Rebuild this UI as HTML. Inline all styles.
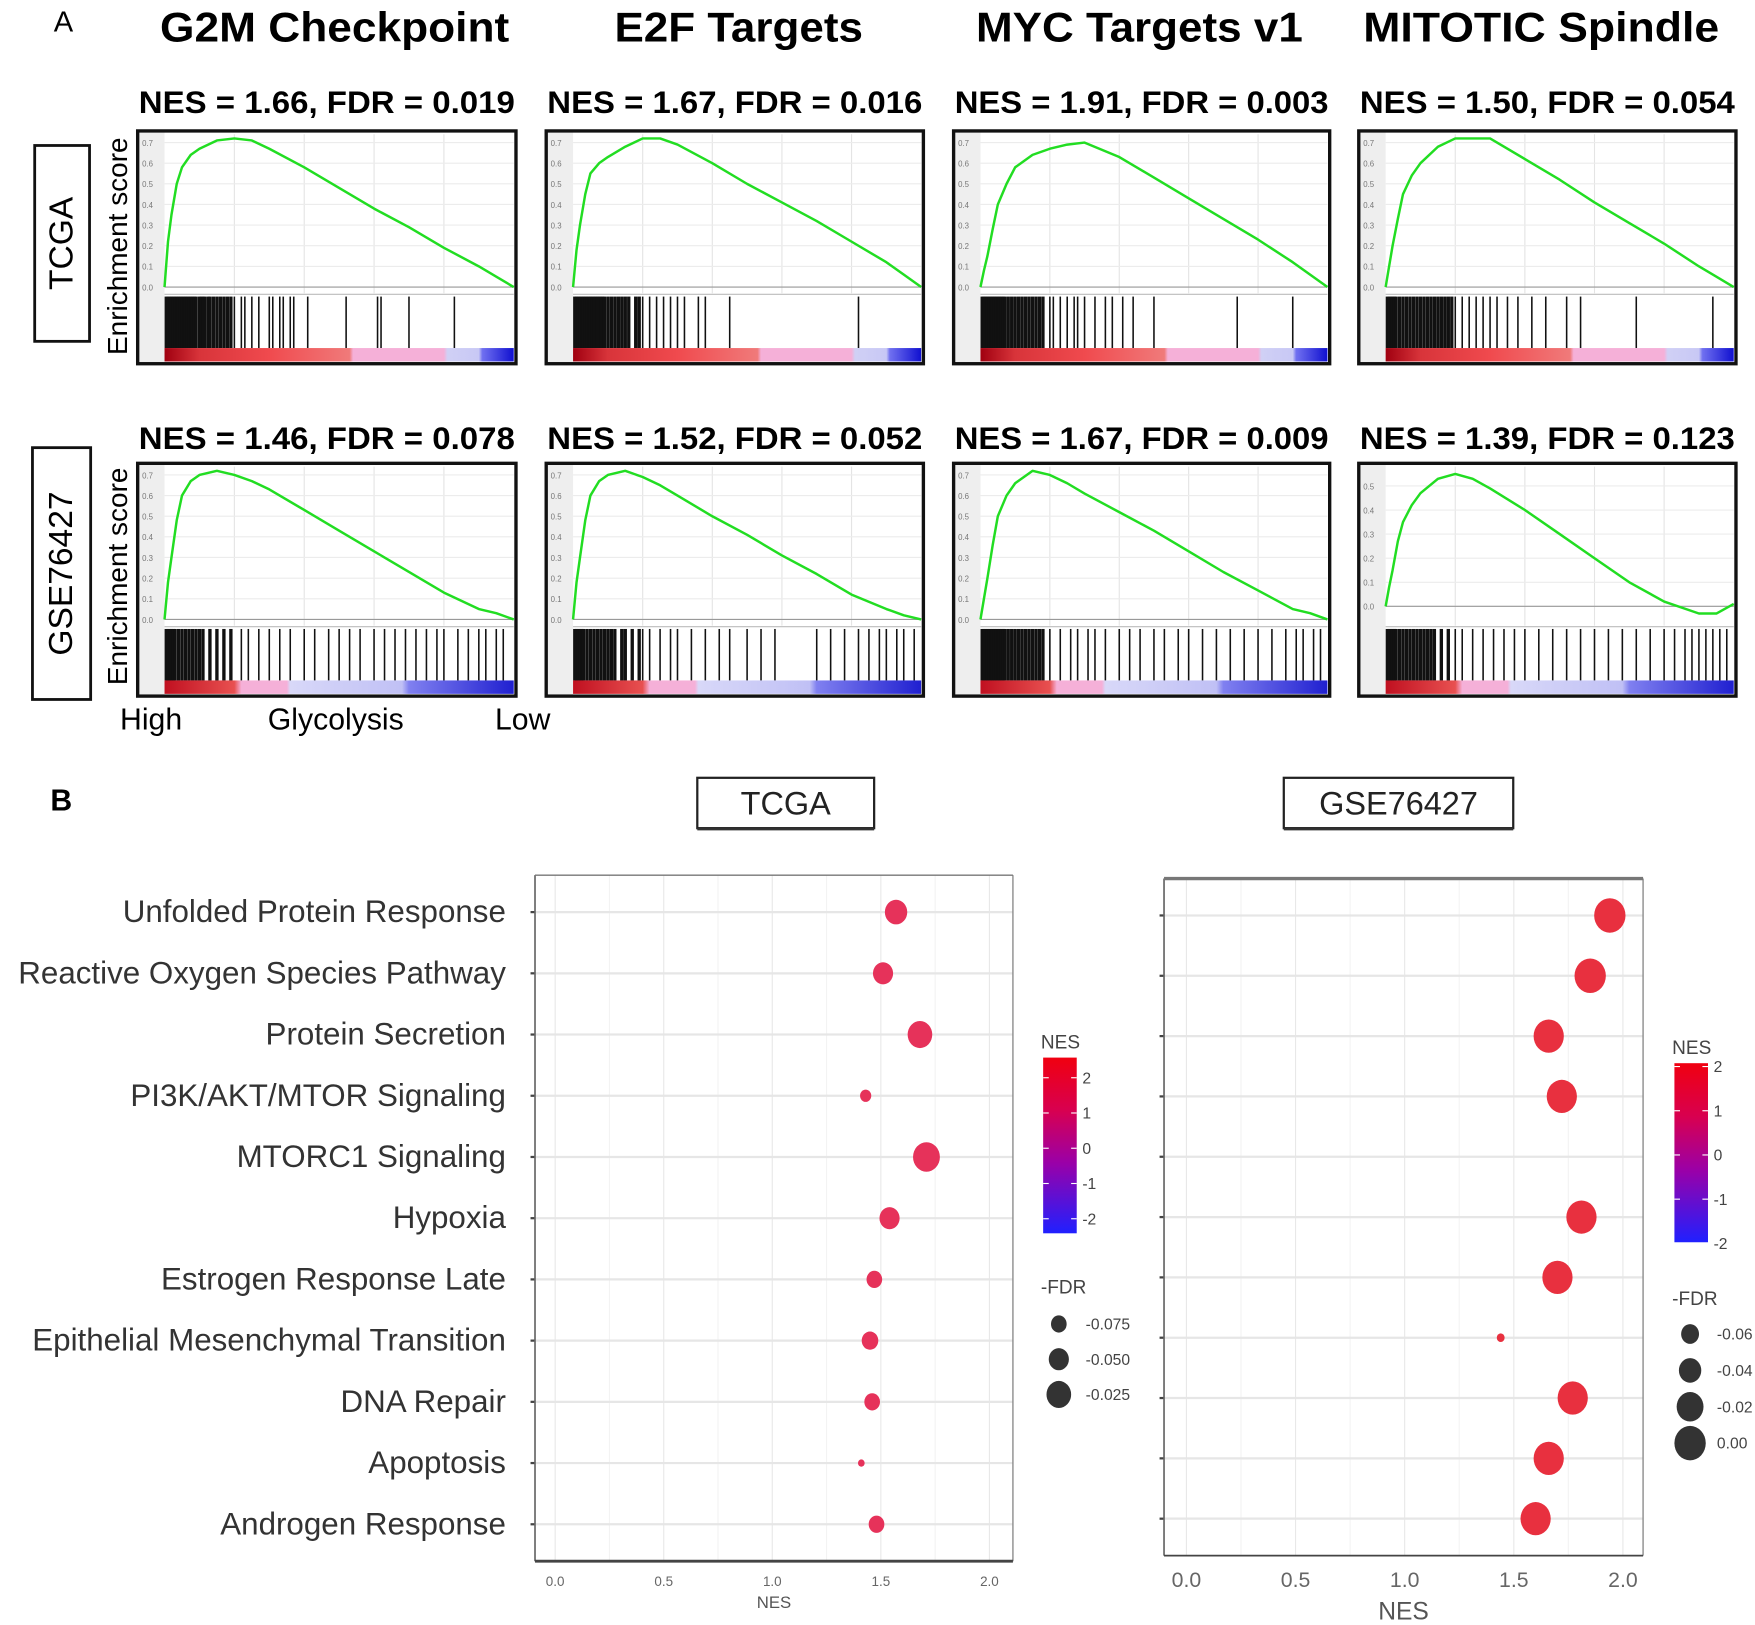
<!DOCTYPE html>
<html><head><meta charset="utf-8"><style>
html,body{margin:0;padding:0;background:#fff;}
svg{display:block;font-family:"Liberation Sans",sans-serif;}
</style></head><body>
<svg id="fig" width="1755" height="1625" viewBox="0 0 1568 1452" preserveAspectRatio="none" xmlns="http://www.w3.org/2000/svg">
<defs>
<linearGradient id="gTCGA" x1="0" x2="1" y1="0" y2="0">
<stop offset="0" stop-color="#a00010"/><stop offset="0.1" stop-color="#d8343a"/><stop offset="0.3" stop-color="#f04a4e"/><stop offset="0.53" stop-color="#f07a7a"/><stop offset="0.54" stop-color="#f5b0d8"/><stop offset="0.8" stop-color="#f5b0d8"/><stop offset="0.81" stop-color="#d0d0f5"/><stop offset="0.9" stop-color="#c8c8f5"/><stop offset="0.91" stop-color="#7070f0"/><stop offset="1" stop-color="#1010d0"/>
</linearGradient>
<linearGradient id="gGSE" x1="0" x2="1" y1="0" y2="0">
<stop offset="0" stop-color="#c01020"/><stop offset="0.2" stop-color="#e85050"/><stop offset="0.22" stop-color="#f5b0d8"/><stop offset="0.35" stop-color="#f5b0d8"/><stop offset="0.36" stop-color="#d8d8f8"/><stop offset="0.68" stop-color="#c0c0f5"/><stop offset="0.7" stop-color="#8080f0"/><stop offset="1" stop-color="#2020d0"/>
</linearGradient>
<linearGradient id="gNES" x1="0" x2="0" y1="0" y2="1">
<stop offset="0" stop-color="#f00010"/><stop offset="0.3" stop-color="#d80050"/><stop offset="0.6" stop-color="#9a00a8"/><stop offset="1" stop-color="#2020ff"/>
</linearGradient>
</defs>
<g id="partA"></g>
<g id="partB"></g>
</svg>
<script>
// ---------- Part A data ----------
const gseaTitles = ["G2M Checkpoint","E2F Targets","MYC Targets v1","MITOTIC Spindle"];
const tcgaLabels = ["NES = 1.66, FDR = 0.019","NES = 1.67, FDR = 0.016","NES = 1.91, FDR = 0.003","NES = 1.50, FDR = 0.054"];
const gseLabels = ["NES = 1.46, FDR = 0.078","NES = 1.52, FDR = 0.052","NES = 1.67, FDR = 0.009","NES = 1.39, FDR = 0.123"];
const esRank = [0,0.01,0.02,0.035,0.05,0.075,0.1,0.15,0.2,0.25,0.3,0.4,0.5,0.6,0.7,0.8,0.9,0.95,1];
const esG2M_T = [0,0.22,0.35,0.5,0.58,0.64,0.67,0.71,0.72,0.71,0.67,0.58,0.48,0.38,0.29,0.19,0.1,0.05,0];
const esE2F_T = [0,0.18,0.3,0.45,0.55,0.6,0.63,0.68,0.72,0.72,0.69,0.6,0.5,0.41,0.32,0.22,0.12,0.06,0];
const esMYC_T = [0,0.08,0.15,0.28,0.4,0.5,0.58,0.64,0.67,0.69,0.7,0.63,0.53,0.43,0.33,0.23,0.12,0.06,0];
const esMIT_T = [0,0.1,0.2,0.33,0.45,0.54,0.6,0.68,0.72,0.72,0.72,0.62,0.52,0.41,0.31,0.21,0.1,0.05,0];
const esG2M_G = [0,0.18,0.3,0.48,0.6,0.67,0.7,0.72,0.7,0.67,0.63,0.53,0.43,0.33,0.23,0.13,0.05,0.03,0];
const esE2F_G = [0,0.18,0.3,0.48,0.6,0.67,0.7,0.72,0.69,0.65,0.6,0.5,0.41,0.31,0.22,0.12,0.05,0.02,0];
const esMYC_G = [0,0.1,0.2,0.36,0.5,0.6,0.66,0.72,0.7,0.66,0.61,0.52,0.43,0.33,0.23,0.14,0.05,0.03,0];
const esMIT_G = [0,0.08,0.15,0.27,0.35,0.42,0.47,0.53,0.55,0.53,0.49,0.4,0.3,0.2,0.1,0.02,-0.03,-0.03,0.01];
const hitsG2M_T = [0.005,0.01,0.015,0.02,0.025,0.03,0.035,0.04,0.045,0.05,0.055,0.06,0.065,0.07,0.075,0.08,0.085,0.09,0.1,0.105,0.11,0.115,0.125,0.13,0.14,0.15,0.16,0.17,0.18,0.19,0.2,0.22,0.23,0.25,0.27,0.3,0.31,0.33,0.34,0.36,0.37,0.41,0.52,0.61,0.62,0.7,0.83];
const hitsE2F_T = [0.005,0.01,0.015,0.02,0.025,0.03,0.035,0.04,0.045,0.05,0.055,0.06,0.065,0.07,0.075,0.08,0.085,0.09,0.1,0.11,0.12,0.13,0.14,0.15,0.16,0.18,0.19,0.2,0.22,0.24,0.26,0.28,0.3,0.32,0.36,0.38,0.45,0.82];
const hitsMYC_T = [0.005,0.01,0.015,0.02,0.025,0.03,0.035,0.04,0.045,0.05,0.055,0.06,0.065,0.07,0.08,0.09,0.1,0.11,0.12,0.13,0.14,0.15,0.16,0.17,0.18,0.2,0.21,0.23,0.25,0.27,0.28,0.3,0.33,0.36,0.38,0.41,0.44,0.5,0.74,0.9];
const hitsMIT_T = [0.005,0.01,0.015,0.02,0.025,0.03,0.04,0.05,0.06,0.07,0.08,0.09,0.1,0.11,0.12,0.13,0.14,0.15,0.16,0.17,0.18,0.19,0.2,0.22,0.24,0.26,0.28,0.3,0.32,0.35,0.38,0.42,0.46,0.52,0.56,0.72,0.94];
const hitsG2M_G = [0.005,0.01,0.015,0.02,0.025,0.03,0.04,0.05,0.06,0.07,0.08,0.09,0.1,0.11,0.13,0.15,0.17,0.19,0.22,0.24,0.27,0.3,0.33,0.36,0.4,0.43,0.47,0.5,0.53,0.56,0.6,0.63,0.66,0.69,0.72,0.75,0.78,0.8,0.84,0.87,0.9,0.92,0.95,0.97];
const hitsE2F_G = [0.005,0.01,0.015,0.02,0.025,0.03,0.04,0.05,0.06,0.07,0.08,0.09,0.1,0.11,0.12,0.14,0.15,0.17,0.19,0.2,0.22,0.25,0.28,0.3,0.34,0.38,0.42,0.45,0.5,0.54,0.58,0.7,0.74,0.78,0.82,0.85,0.88,0.9,0.93,0.95,0.98];
const hitsMYC_G = [0.005,0.01,0.015,0.02,0.025,0.03,0.035,0.04,0.045,0.05,0.055,0.06,0.065,0.07,0.08,0.09,0.1,0.11,0.12,0.13,0.14,0.15,0.16,0.17,0.18,0.2,0.23,0.26,0.28,0.31,0.33,0.36,0.4,0.43,0.46,0.5,0.53,0.57,0.6,0.64,0.68,0.72,0.76,0.8,0.84,0.88,0.91,0.93,0.96,0.98];
const hitsMIT_G = [0.005,0.01,0.015,0.02,0.025,0.03,0.04,0.05,0.06,0.07,0.08,0.09,0.1,0.11,0.12,0.13,0.14,0.16,0.18,0.2,0.22,0.25,0.28,0.31,0.34,0.37,0.4,0.44,0.48,0.52,0.56,0.6,0.64,0.68,0.72,0.76,0.8,0.83,0.86,0.88,0.9,0.92,0.94,0.96,0.98];
const esTicks = ["0.0","0.1","0.2","0.3","0.4","0.5","0.6","0.7"];

// ---------- Part B data ----------
const pathways = ["Unfolded Protein Response","Reactive Oxygen Species Pathway","Protein Secretion","PI3K/AKT/MTOR Signaling","MTORC1 Signaling","Hypoxia ","Estrogen Response Late","Epithelial Mesenchymal Transition","DNA Repair","Apoptosis","Androgen Response"];
const tcgaNES = [1.57,1.51,1.68,1.43,1.71,1.54,1.47,1.45,1.46,1.41,1.48];
const tcgaFDR = [-0.0375,-0.05,-0.025,-0.1,-0.0125,-0.05,-0.075,-0.07,-0.075,-0.125,-0.075];
const gseNES = [1.94,1.85,1.66,1.72,null,1.81,1.70,1.44,1.77,1.66,1.60];
const gseFDR = [0,0,-0.005,-0.005,null,-0.005,-0.005,-0.105,-0.005,-0.005,-0.005];
const nesTicks = ["0.0","0.5","1.0","1.5","2.0"];
const tcgaColorTicks = ["2","1","0","-1","-2"];
const gseColorTicks = ["2","1","0","-1","-2"];
const tcgaSizeTicks = [-0.075,-0.05,-0.025];
const gseSizeTicks = [-0.06,-0.04,-0.02,0];

const NS="http://www.w3.org/2000/svg";
function mk(parent,tag,attrs,text){const e=document.createElementNS(NS,tag);for(const k in attrs)e.setAttribute(k,attrs[k]);if(text!==undefined)e.textContent=text;parent.appendChild(e);return e;}

const A=document.getElementById('partA');
const B=document.getElementById('partB');

let t;
t=mk(A,'text',{x:48,y:28,'font-size':26},"A");


const colX=[[123,461],[488,825],[852,1188],[1214,1551]];
const titleCx=[299,660,1018,1377];
const titleW=[312,222,292,318];
gseaTitles.forEach((s,i)=>{
  const e=mk(A,'text',{x:titleCx[i],y:37,'font-size':37,'font-weight':'bold','text-anchor':'middle',textLength:titleW[i],lengthAdjust:'spacingAndGlyphs'},s);
  
  
});
const rows=[
 {top:117,bot:325,labY:101,labels:tcgaLabels,es:[esG2M_T,esE2F_T,esMYC_T,esMIT_T],hits:[hitsG2M_T,hitsE2F_T,hitsMYC_T,hitsMIT_T],grad:'gTCGA',dom:[[-0.03,0.74],[-0.03,0.74],[-0.03,0.74],[-0.03,0.74]]},
 {top:414,bot:622,labY:401,labels:gseLabels,es:[esG2M_G,esE2F_G,esMYC_G,esMIT_G],hits:[hitsG2M_G,hitsE2F_G,hitsMYC_G,hitsMIT_G],grad:'gGSE',dom:[[-0.03,0.74],[-0.03,0.74],[-0.03,0.74],[-0.08,0.58]]}
];
rows.forEach((r,ri)=>{
  r.labels.forEach((s,i)=>{
    const cx=(colX[i][0]+colX[i][1])/2;
    const e=mk(A,'text',{x:cx,y:r.labY,'font-size':28,'font-weight':'bold','text-anchor':'middle',textLength:colX[i][1]-colX[i][0]-2,lengthAdjust:'spacingAndGlyphs'},s);
    
    
  });
  colX.forEach((c,i)=>{
    const g=mk(A,'g',{});
    
    
    const x0=c[0],x1=c[1];
    mk(g,'rect',{x:x0,y:r.top,width:x1-x0,height:r.bot-r.top,fill:'#fff'});
    mk(g,'rect',{x:x0+1,y:r.top+1,width:23,height:r.bot-r.top-2,fill:'#eeeeee'});
    const px0=x0+24,px1=x1-2;
    const pTop=r.top+3,pBot=r.top+145;
    const [ymin,ymax]=r.dom[i];
    const sx=v=>px0+v*(px1-px0);
    const sy=v=>pBot-(v-ymin)/(ymax-ymin)*(pBot-pTop);
    for(let k=1;k<5;k++){mk(g,'line',{x1:px0+(px1-px0)*k*0.2,x2:px0+(px1-px0)*k*0.2,y1:pTop,y2:pBot,stroke:'#e4e4e4','stroke-width':1});}
    esTicks.forEach(tk=>{const v=parseFloat(tk);if(v>ymax)return;const y=sy(v);
      mk(g,'line',{x1:px0,x2:px1,y1:y,y2:y,stroke:'#ececec','stroke-width':1});
      const e=mk(g,'text',{x:x0+4,y:y+3,'font-size':7,fill:'#777'},tk);
      
      
    });
    mk(g,'line',{x1:px0,x2:px1,y1:sy(0),y2:sy(0),stroke:'#999','stroke-width':1});
    mk(g,'line',{x1:px0,x2:px1,y1:pBot+1,y2:pBot+1,stroke:'#bbb','stroke-width':1});
    const d=r.es[i].map((v,k)=>(k?'L':'M')+sx(esRank[k]).toFixed(1)+','+sy(v).toFixed(1)).join('');
    const p=mk(g,'path',{d:d,fill:'none',stroke:'#22dd22','stroke-width':2.2,'stroke-linejoin':'round'});
    
    
    const hTop=pBot+3,hBot=r.bot-14;
    r.hits[i].forEach(h=>{
      const l=mk(g,'line',{x1:sx(h),x2:sx(h),y1:hTop,y2:hBot,stroke:'#111','stroke-width':h<0.2?3:1.4});
      
      
    });
    const cb=mk(g,'rect',{x:px0,y:hBot,width:px1-px0,height:r.bot-2-hBot,fill:'url(#'+r.grad+')'});
    
    
    mk(g,'rect',{x:x0,y:r.top,width:x1-x0,height:r.bot-r.top,fill:'none',stroke:'#111','stroke-width':3});
  });
});
[[31,130,49,175,'TCGA'],[29,400,52,225,'GSE76427']].forEach((b,i)=>{
  const g=mk(A,'g',{});
  
  
  mk(g,'rect',{x:b[0],y:b[1],width:b[2],height:b[3],fill:'#fff',stroke:'#111','stroke-width':2.5});
  const cx=b[0]+b[2]/2,cy=b[1]+b[3]/2;
  mk(g,'text',{x:cx,y:cy,'font-size':30,'text-anchor':'middle','dominant-baseline':'central',transform:'rotate(-90 '+cx+' '+cy+')'},b[4]);
});
[220,515].forEach(cy=>{
  const e=mk(A,'text',{x:105,y:cy,'font-size':25,'text-anchor':'middle','dominant-baseline':'central',transform:'rotate(-90 105 '+cy+')'},'Enrichment score');
  
  
});
[[135,'High'],[300,'Glycolysis'],[467,'Low']].forEach(a=>{
  const e=mk(A,'text',{x:a[0],y:652,'font-size':27,'text-anchor':'middle'},a[1]);
  
  
});

// ---------- Part B ----------
t=mk(B,'text',{x:45,y:724,'font-size':27,'font-weight':'bold'},"B");


[[623,695,158,45,'TCGA'],[1147,695,205,45,'GSE76427']].forEach(b=>{
  const g=mk(B,'g',{});
  
  
  mk(g,'rect',{x:b[0],y:b[1],width:b[2],height:b[3],fill:'#fff',stroke:'#222','stroke-width':2});
  mk(g,'line',{x1:b[0],x2:b[0]+b[2],y1:b[1]+b[3]+1,y2:b[1]+b[3]+1,stroke:'#333','stroke-width':2});
  mk(g,'text',{x:b[0]+b[2]/2,y:b[1]+33,'font-size':29,'text-anchor':'middle',fill:'#222'},b[4]);
});

function dotPlot(cfg){
  const g=mk(B,'g',{});
  
  
  const sx=v=>cfg.x0+v/2*(cfg.x2-cfg.x0);
  const sy=i=>cfg.cy0+i*(cfg.cy1-cfg.cy0)/(pathways.length-1);
  mk(g,'rect',{x:cfg.left,y:cfg.top,width:cfg.right-cfg.left,height:cfg.bot-cfg.top,fill:'#fff'});
  for(let k=0;k<=8;k++){const v=k*0.25;mk(g,'line',{x1:sx(v),x2:sx(v),y1:cfg.top,y2:cfg.bot,stroke:k%2?'#f3f3f3':'#e8e8e8','stroke-width':1});}
  pathways.forEach((p,i)=>{
    mk(g,'line',{x1:cfg.left,x2:cfg.right,y1:sy(i),y2:sy(i),stroke:'#e6e6e6','stroke-width':2});
    mk(g,'line',{x1:cfg.left-4,x2:cfg.left,y1:sy(i),y2:sy(i),stroke:'#444','stroke-width':2});
  });
  mk(g,'line',{x1:cfg.left,x2:cfg.left,y1:cfg.top,y2:cfg.bot,stroke:'#666','stroke-width':1.5});
  mk(g,'line',{x1:cfg.right,x2:cfg.right,y1:cfg.top,y2:cfg.bot,stroke:'#888','stroke-width':1.2});
  mk(g,'line',{x1:cfg.left,x2:cfg.right,y1:cfg.top,y2:cfg.top,stroke:'#777','stroke-width':cfg.topW});
  mk(g,'line',{x1:cfg.left,x2:cfg.right,y1:cfg.bot,y2:cfg.bot,stroke:'#444','stroke-width':cfg.botW});
  nesTicks.forEach(tk=>{
    const e=mk(g,'text',{x:sx(parseFloat(tk)),y:cfg.bot+cfg.tickDy,'font-size':cfg.tickFs,'text-anchor':'middle',fill:'#666'},tk);
    
    
  });
  const xt=mk(g,'text',{x:(cfg.left+cfg.right)/2,y:cfg.xTitleY,'font-size':cfg.xTitleFs,'text-anchor':'middle',fill:'#555'},'NES');
  
  
  cfg.nes.forEach((v,i)=>{
    if(v===null)return;
    const r=cfg.rmap(cfg.fdr[i]);
    const c=mk(g,'ellipse',{cx:sx(v),cy:sy(i),rx:r,ry:r*1.1,fill:cfg.color});
    
    
  });
  const L=cfg.leg;
  mk(g,'text',{x:L.x-2,y:L.y-8,'font-size':17,fill:'#444'},'NES');
  const bar=mk(g,'rect',{x:L.x,y:L.y,width:30,height:L.h,fill:'url(#gNES)'});
  
  
  cfg.colorTicks.forEach((tk,k)=>{
    const y=L.y+L.t0+k*L.tstep;
    mk(g,'line',{x1:L.x,x2:L.x+5,y1:y,y2:y,stroke:'#fff','stroke-width':1});
    mk(g,'line',{x1:L.x+25,x2:L.x+30,y1:y,y2:y,stroke:'#fff','stroke-width':1});
    mk(g,'text',{x:L.x+35,y:y+5,'font-size':14,fill:'#444'},tk);
  });
  mk(g,'text',{x:L.x-2,y:L.fy,'font-size':17,fill:'#444'},'-FDR');
  cfg.sizeTicks.forEach((v,k)=>{
    const y=L.fy+L.f0+k*L.fstep;
    const c=mk(g,'ellipse',{cx:L.x+14,cy:y,rx:cfg.rmap(v),ry:cfg.rmap(v)*1.1,fill:'#333'});
    
    
    mk(g,'text',{x:L.x+38,y:y+5,'font-size':14,fill:'#444'},v===0?'0.00':v.toFixed(L.dec));
  });
}
pathways.forEach((p,i)=>{
  const y=815+i*(1362-815)/(pathways.length-1);
  const e=mk(B,'text',{x:452,y:y+9,'font-size':28,'text-anchor':'end',fill:'#333'},p);
  
  
});
dotPlot({name:'tcga-dot-plot',left:478,right:905,top:782,bot:1395,x0:496,x2:884,cy0:815,cy1:1362,topW:1.2,botW:2.5,
  nes:tcgaNES,fdr:tcgaFDR,color:'#e6325a',rmap:f=>Math.max(2.5,13+80*f),tickDy:22,tickFs:12,xTitleY:1437,xTitleFs:15,
  colorTicks:tcgaColorTicks,sizeTicks:tcgaSizeTicks,
  leg:{x:932,y:945,h:157,t0:18,tstep:31.5,fy:1156,f0:27,fstep:31.5,dec:3}});
dotPlot({name:'gse-dot-plot',left:1040,right:1468,top:785,bot:1390,x0:1060,x2:1450,cy0:818,cy1:1357,topW:3,botW:1.5,
  nes:gseNES,fdr:gseFDR,color:'#e8303f',rmap:f=>Math.max(2.5,14+100*f),tickDy:28,tickFs:19,xTitleY:1447,xTitleFs:22,
  colorTicks:gseColorTicks,sizeTicks:gseSizeTicks,
  leg:{x:1496,y:950,h:160,t0:3,tstep:39.5,fy:1166,f0:26,fstep:32.5,dec:2}});
</script>
</body></html>
